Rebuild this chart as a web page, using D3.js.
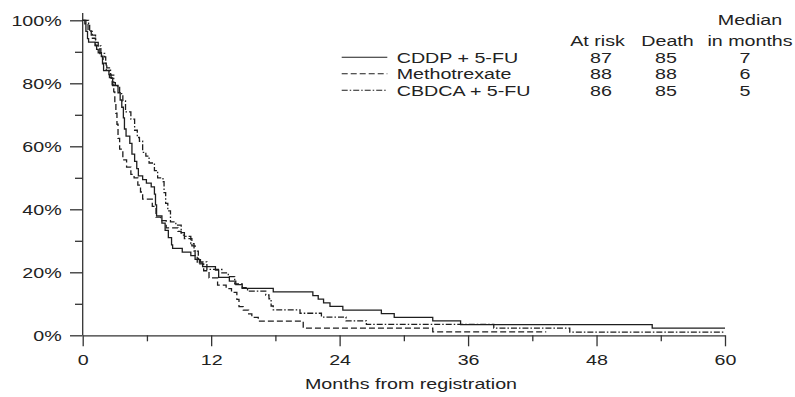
<!DOCTYPE html>
<html><head><meta charset="utf-8">
<script src="https://cdn.jsdelivr.net/npm/d3@7"></script>
<style>
html,body{margin:0;padding:0;background:#fff;}
svg{display:block;}
text{font-family:"Liberation Sans",Arial,Helvetica,sans-serif;font-size:15.5px;fill:#222;}
text.lg{font-size:14.5px;}
</style></head>
<body><svg id="chart" width="795" height="397"></svg>
<script>
// ---- data (months, survival %) ----
const seriesNames = ["CDDP + 5-FU", "Methotrexate", "CBDCA + 5-FU"];
const atRisk = [87, 88, 86];
const deaths = [85, 88, 85];
const medians = [7, 6, 5];
const cddp = [[0,100],[0.2,98.9],[0.3,96.5],[0.45,94.2],[0.55,93.1],[1.15,92],[1.3,90.8],[1.45,89.7],[1.75,88.5],[1.85,86.2],[1.95,84],[2.45,82.8],[2.65,81.6],[2.8,79.3],[3.3,77],[3.5,74.7],[3.65,72.4],[3.8,69],[3.9,65.5],[4.05,63.2],[4.4,60.9],[4.6,57.5],[4.85,55.2],[5.05,52.9],[5.2,50.6],[5.6,49.4],[5.95,48.3],[6.4,47.1],[6.7,44.8],[6.8,41.4],[6.9,37.9],[7.4,35.6],[7.7,33.3],[8.0,31],[8.3,28.7],[8.4,27.6],[9.3,26.4],[10.1,25.3],[10.5,24.1],[10.9,23],[11.2,21.8],[12.4,20.7],[12.7,18.4],[13.7,17.2],[14.3,16.1],[14.9,14.9],[17.8,13.8],[21.5,12.6],[22.0,11.5],[22.5,10.3],[23.1,9.2],[24.3,8.0],[27.9,6.9],[29.1,5.7],[32.7,4.6],[35.3,3.4],[53.2,2.3],[60,2.3]];
const methotrexate = [[0,100],[0.3,98.9],[0.5,96.6],[0.8,94.3],[1.2,92],[1.45,90.9],[1.6,88.6],[1.9,86.4],[2.2,84.1],[2.5,81.8],[2.75,79.5],[2.9,77.3],[3.0,73.9],[3.1,70.5],[3.2,67],[3.3,62.5],[3.45,59.1],[3.75,55.7],[4.1,53.4],[4.5,51.1],[4.8,50],[5.15,47.7],[5.4,45.5],[5.6,43.2],[6.5,40.9],[6.85,37.5],[7.3,36.4],[7.8,34.1],[8.9,33],[9.2,31.8],[9.5,30.7],[10.2,28.4],[10.5,25],[10.7,22.7],[11.3,20.5],[11.8,18.2],[12.6,15.9],[13.4,14.8],[13.9,13.6],[14.4,11.4],[14.6,9.1],[15.0,8.0],[15.5,6.8],[15.8,5.7],[16.4,4.5],[20.6,2.3],[32.7,1.1],[43.3,1.1]];
const cbdca = [[0,100],[0.55,98.8],[0.65,96.5],[0.9,95.3],[1.2,93],[1.45,91.9],[1.7,89.5],[2.05,88.4],[2.15,86],[2.25,84.9],[2.6,82.6],[2.9,80.2],[3.05,79.1],[3.45,76.7],[3.75,74.4],[4.0,70.9],[4.5,68.6],[4.85,65.1],[5.1,62.8],[5.3,61.6],[5.6,58.1],[5.9,56.9],[6.2,54.7],[6.7,52.3],[7.0,50],[7.5,48.8],[7.6,45.3],[7.75,41.9],[7.95,39.5],[8.2,36],[8.7,35],[9.2,32.6],[9.5,31.4],[10.1,29.1],[10.4,26.7],[10.8,24.4],[11.0,23.3],[11.6,20.9],[13.0,19.8],[13.6,18.6],[14.2,16.3],[14.9,15.1],[15.4,14],[17.1,12.8],[17.4,11.6],[17.6,9.3],[17.8,8.1],[20.3,7.0],[22.3,5.8],[24.6,4.6],[26.5,3.5],[38.4,2.3],[45.5,1.0],[60,1.0]];
const xMajor = [0, 12, 24, 36, 48, 60];
const xMinor = [6, 18, 30, 42, 54];
const yMajor = [0, 20, 40, 60, 80, 100];
const yMinor = [10, 30, 50, 70, 90];

// ---- drawing ----
const SX = 1.27;   // horizontal text stretch of the original
const SXL = 1.357; // same visual width for the slightly smaller legend font
const ink = "#222";
const svg = d3.select("#chart");
const x = d3.scaleLinear().domain([0, 60]).range([82.7, 725]);
const y = d3.scaleLinear().domain([0, 100]).range([335.3, 20.3]);

function stext(g, tx, ty, str, anchor, legend) {
  g.append("g").attr("transform", `translate(${tx},${ty})`)
    .append("text").attr("class", legend ? "lg" : null)
    .attr("transform", `scale(${legend ? SXL : SX},1)`)
    .attr("text-anchor", anchor || "start").text(str);
}

// x axis
const gx = svg.append("g").attr("transform", `translate(0,${y(0)})`);
gx.call(d3.axisBottom(x).tickValues(xMajor).tickSize(11).tickSizeOuter(0).tickPadding(8).tickFormat(d => d));
gx.append("g").call(d3.axisBottom(x).tickValues(xMinor).tickSize(6).tickSizeOuter(0).tickFormat(""))
  .select(".domain").remove();
gx.selectAll("text").attr("transform", `scale(${SX},1)`).attr("fill", ink)
  .style("font-size", "15.5px").style("font-family", '"Liberation Sans",Arial,sans-serif');

// y axis
const gy = svg.append("g").attr("transform", `translate(${x(0)},0)`);
gy.call(d3.axisLeft(y).tickValues(yMajor).tickSize(12.7).tickSizeOuter(0).tickPadding(3.8).tickFormat(d => d + "%"));
gy.select(".domain").remove();
gy.append("g").call(d3.axisLeft(y).tickValues(yMinor).tickSize(7.7).tickSizeOuter(0).tickFormat(""))
  .select(".domain").remove();
gy.selectAll("text").attr("transform", `scale(${SX},1)`).attr("fill", ink)
  .style("font-size", "15.5px").style("font-family", '"Liberation Sans",Arial,sans-serif');
gy.append("line").attr("x1", 0).attr("x2", 0).attr("y1", y(0)).attr("y2", y(102.3));

svg.selectAll(".domain, .tick line, g > line").attr("stroke", "#333").attr("stroke-width", 1.3);

// curves
const styles = ["none", "6,3", "6,2,1.5,2"];
const curves = [cddp, methotrexate, cbdca];
const line = d3.line().x(d => x(d[0])).y(d => y(d[1])).curve(d3.curveStepAfter);
curves.forEach((c, i) => {
  svg.append("path").datum(c).attr("d", line).attr("fill", "none")
    .attr("stroke", "#1e1e1e").attr("stroke-width", 1.3)
    .attr("stroke-dasharray", styles[i]);
});

// legend
const rowBase = [62.5, 79, 95.5];
seriesNames.forEach((n, i) => {
  svg.append("line").attr("x1", 341.7).attr("x2", 387.3)
    .attr("y1", rowBase[i] - 5.2).attr("y2", rowBase[i] - 5.2)
    .attr("stroke", "#1e1e1e").attr("stroke-width", 1.1)
    .attr("stroke-dasharray", styles[i]);
  stext(svg, 396.7, rowBase[i], n, "start", true);
  stext(svg, 601, rowBase[i], String(atRisk[i]), "middle", true);
  stext(svg, 666, rowBase[i], String(deaths[i]), "middle", true);
  stext(svg, 745, rowBase[i], String(medians[i]), "middle", true);
});
stext(svg, 750, 24.5, "Median", "middle", true);
stext(svg, 597.5, 46, "At risk", "middle", true);
stext(svg, 667.5, 46, "Death", "middle", true);
stext(svg, 750, 46, "in months", "middle", true);

// axis title
stext(svg, 411, 389, "Months from registration", "middle");
</script>
</body></html>
